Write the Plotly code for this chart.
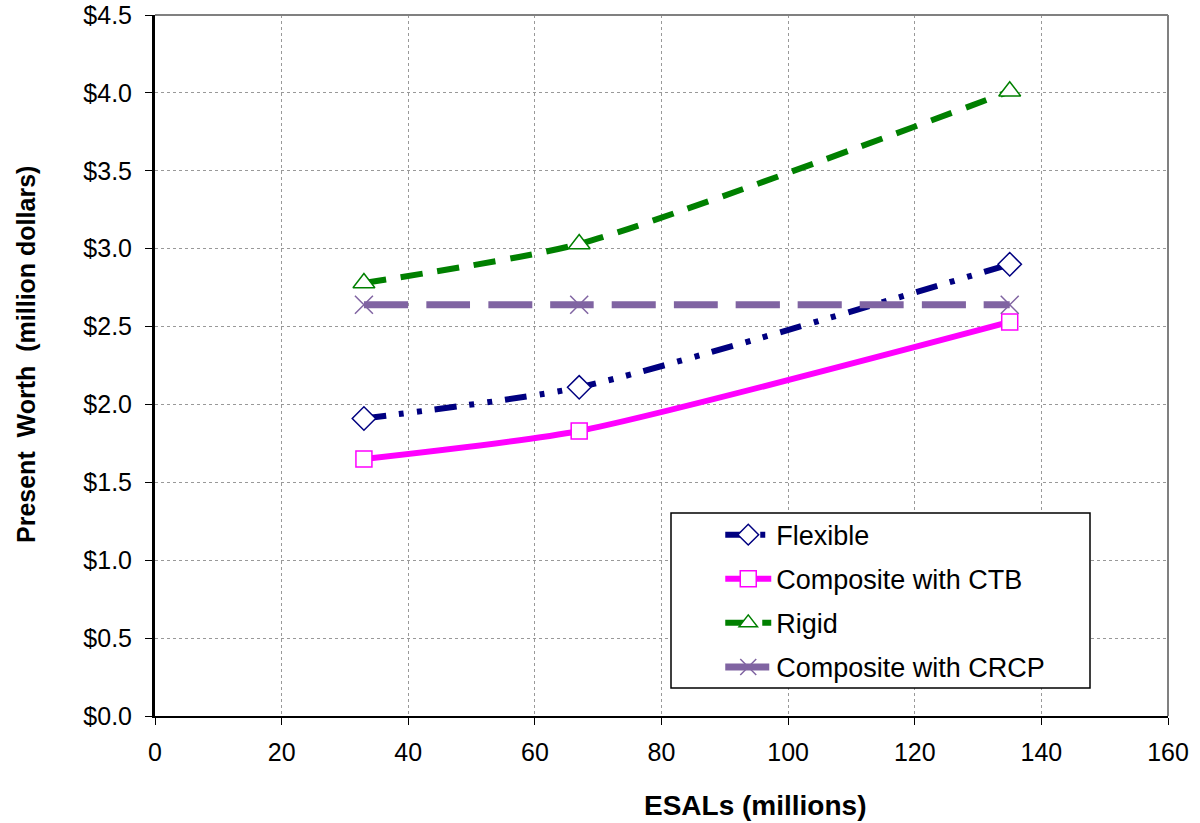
import plotly.graph_objects as go

esals = [33, 67, 135]
flexible = [1.91, 2.11, 2.90]
composite_ctb = [1.65, 1.83, 2.53]
rigid = [2.78, 3.03, 4.01]
composite_crcp = [2.64, 2.64, 2.64]

x_ticks = [0, 20, 40, 60, 80, 100, 120, 140, 160]
y_ticks = [0, 0.5, 1.0, 1.5, 2.0, 2.5, 3.0, 3.5, 4.0, 4.5]
y_tick_labels = ["$%.1f" % v for v in y_ticks]

FONT = "Liberation Sans, Arial, sans-serif"

fig = go.Figure()

series = [
    ("Flexible", flexible, "#000080", "22px,13px,5px,13px,5px,13px", 6, "diamond", 18),
    ("Composite with CTB", composite_ctb, "#FF00FF", "solid", 6, "square", 16),
    ("Rigid", rigid, "#008000", "22px,15px", 6, "triangle-up", 19),
    ("Composite with CRCP", composite_crcp, "#8064A2", "44px,18px", 7, "x-thin", 18),
]

for i, (name, ys, color, dash, width, symbol, size) in enumerate(series):
    fig.add_trace(go.Scatter(
        x=esals, y=ys, name=name, mode="lines+markers", legendgroup="g%d" % i,
        line=dict(color=color, width=width, dash=dash, shape="spline", smoothing=0.6),
        marker=dict(symbol=symbol, size=size, color="white",
                    line=dict(color=color, width=1.5)),
    ))

fig.update_layout(
    width=1200, height=823,
    margin=dict(l=155, r=32, t=15, b=107, autoexpand=False),
    paper_bgcolor="white", plot_bgcolor="white",
    font=dict(family=FONT, size=25, color="black"),
    showlegend=True,
    legend=dict(
        x=0.558, y=0.293, xanchor="left", yanchor="top",
        borderwidth=0, bgcolor="rgba(0,0,0,0)",
        font=dict(family=FONT, size=27, color="black"),
        tracegroupgap=6, itemwidth=46,
    ),
    xaxis=dict(
        range=[0, 160], tickvals=x_ticks, ticks="outside", ticklen=7,
        ticklabelstandoff=6, automargin=False,
        tickfont=dict(family=FONT, size=25, color="black"),
        tickcolor="black", showline=True, linecolor="black", linewidth=2,
        mirror=False, showgrid=True, gridcolor="#999999", griddash="dot", gridwidth=1,
        zeroline=False,
    ),
    yaxis=dict(
        range=[0, 4.5], tickvals=y_ticks, ticktext=y_tick_labels, automargin=False,
        tickfont=dict(family=FONT, size=25, color="black"),
        ticks="outside", ticklen=7, tickcolor="black", ticklabelstandoff=8,
        showline=True, linecolor="black", linewidth=3,
        showgrid=True, gridcolor="#999999", griddash="dot", gridwidth=1,
        zeroline=False,
    ),
)

# axis titles
fig.add_annotation(text="<b>ESALs (millions)</b>", xref="paper", yref="paper",
                   x=(755 - 155) / 1013, y=-(806 - 716) / 701, xanchor="center", yanchor="middle",
                   showarrow=False, font=dict(family=FONT, size=28, color="black"))
fig.add_annotation(text="<b>Present  Worth  (million dollars)</b>", xref="paper", yref="paper",
                   x=-(155 - 26) / 1013, y=(716 - 355) / 701, xanchor="center", yanchor="middle",
                   textangle=-90, showarrow=False, font=dict(family=FONT, size=25, color="black"))

# gray frame on top and right (Excel plot area border)
fig.add_shape(type="line", xref="paper", yref="paper", x0=0, x1=1, y0=1, y1=1,
              line=dict(color="#808080", width=2))
fig.add_shape(type="line", xref="paper", yref="paper", x0=1, x1=1, y0=0, y1=1,
              line=dict(color="#808080", width=2))

# legend box
fig.add_shape(type="rect", xref="paper", yref="paper", layer="above",
              x0=(671 - 155) / 1013, x1=(1090 - 155) / 1013,
              y0=(716 - 688) / 701, y1=(716 - 513) / 701,
              fillcolor="white", line=dict(color="black", width=1.5))

fig.write_html("out.html")
